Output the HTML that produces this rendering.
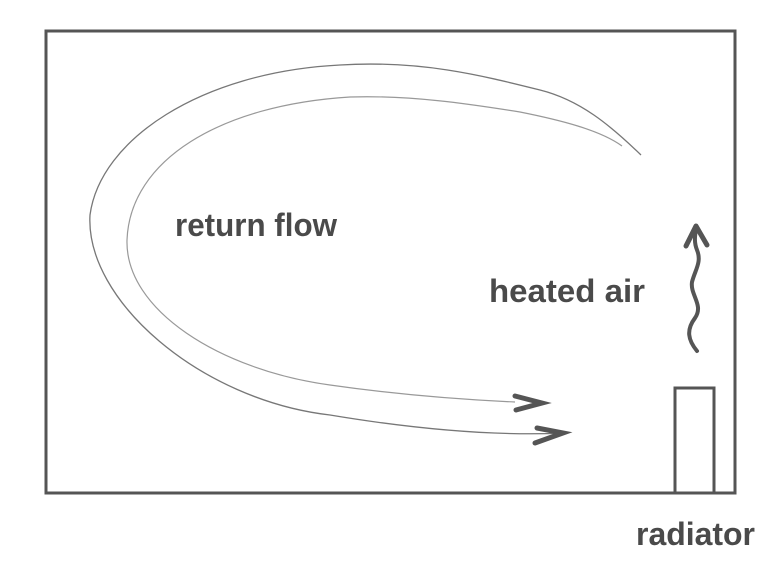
<!DOCTYPE html>
<html><head><style>
body{margin:0;background:#fff;}
svg{display:block}
text{font-family:"Liberation Sans",sans-serif;font-size:32px;fill:#4a4a4a;font-weight:bold;}
</style></head><body>
<svg width="780" height="581" viewBox="0 0 780 581">
<rect x="46" y="31" width="689" height="462" fill="none" stroke="#555" stroke-width="3"/>
<rect x="675" y="388" width="39" height="105" fill="none" stroke="#555" stroke-width="3"/>
<path d="M641,155 C610,125 580,100 540,90 C480,75 420,60 340,65 C200,72 100,140 90,215 C85,300 200,400 330,415 C420,430 500,436 565,433" fill="none" stroke="#777" stroke-width="1.3"/>
<path d="M622,146 C600,130 560,120 520,112 C470,104 410,95 350,97 C220,105 130,160 127,240 C125,310 220,370 330,385 C400,395 470,400 515,402" fill="none" stroke="#999" stroke-width="1.2"/>
<path d="M515,396 L542,403 L516,410" fill="none" stroke="#555" stroke-width="5" stroke-linecap="round"/>
<path d="M537,428 L563,433 L535,443" fill="none" stroke="#555" stroke-width="5" stroke-linecap="round"/>
<path d="M697,351 C688,340 686,330 695,318 C704,305 690,295 692,282 C695,270 702,262 697,250 C693,240 696,232 696,228" fill="none" stroke="#555" stroke-width="4" stroke-linecap="round"/>
<path d="M686,246 L696,226 L707,245" fill="none" stroke="#555" stroke-width="5" stroke-linecap="round" stroke-linejoin="round"/>
<text x="175" y="236" textLength="162" lengthAdjust="spacingAndGlyphs">return flow</text>
<text x="489" y="302" textLength="156" lengthAdjust="spacingAndGlyphs">heated air</text>
<text x="636" y="545" textLength="119" lengthAdjust="spacingAndGlyphs">radiator</text>
</svg>
</body></html>
